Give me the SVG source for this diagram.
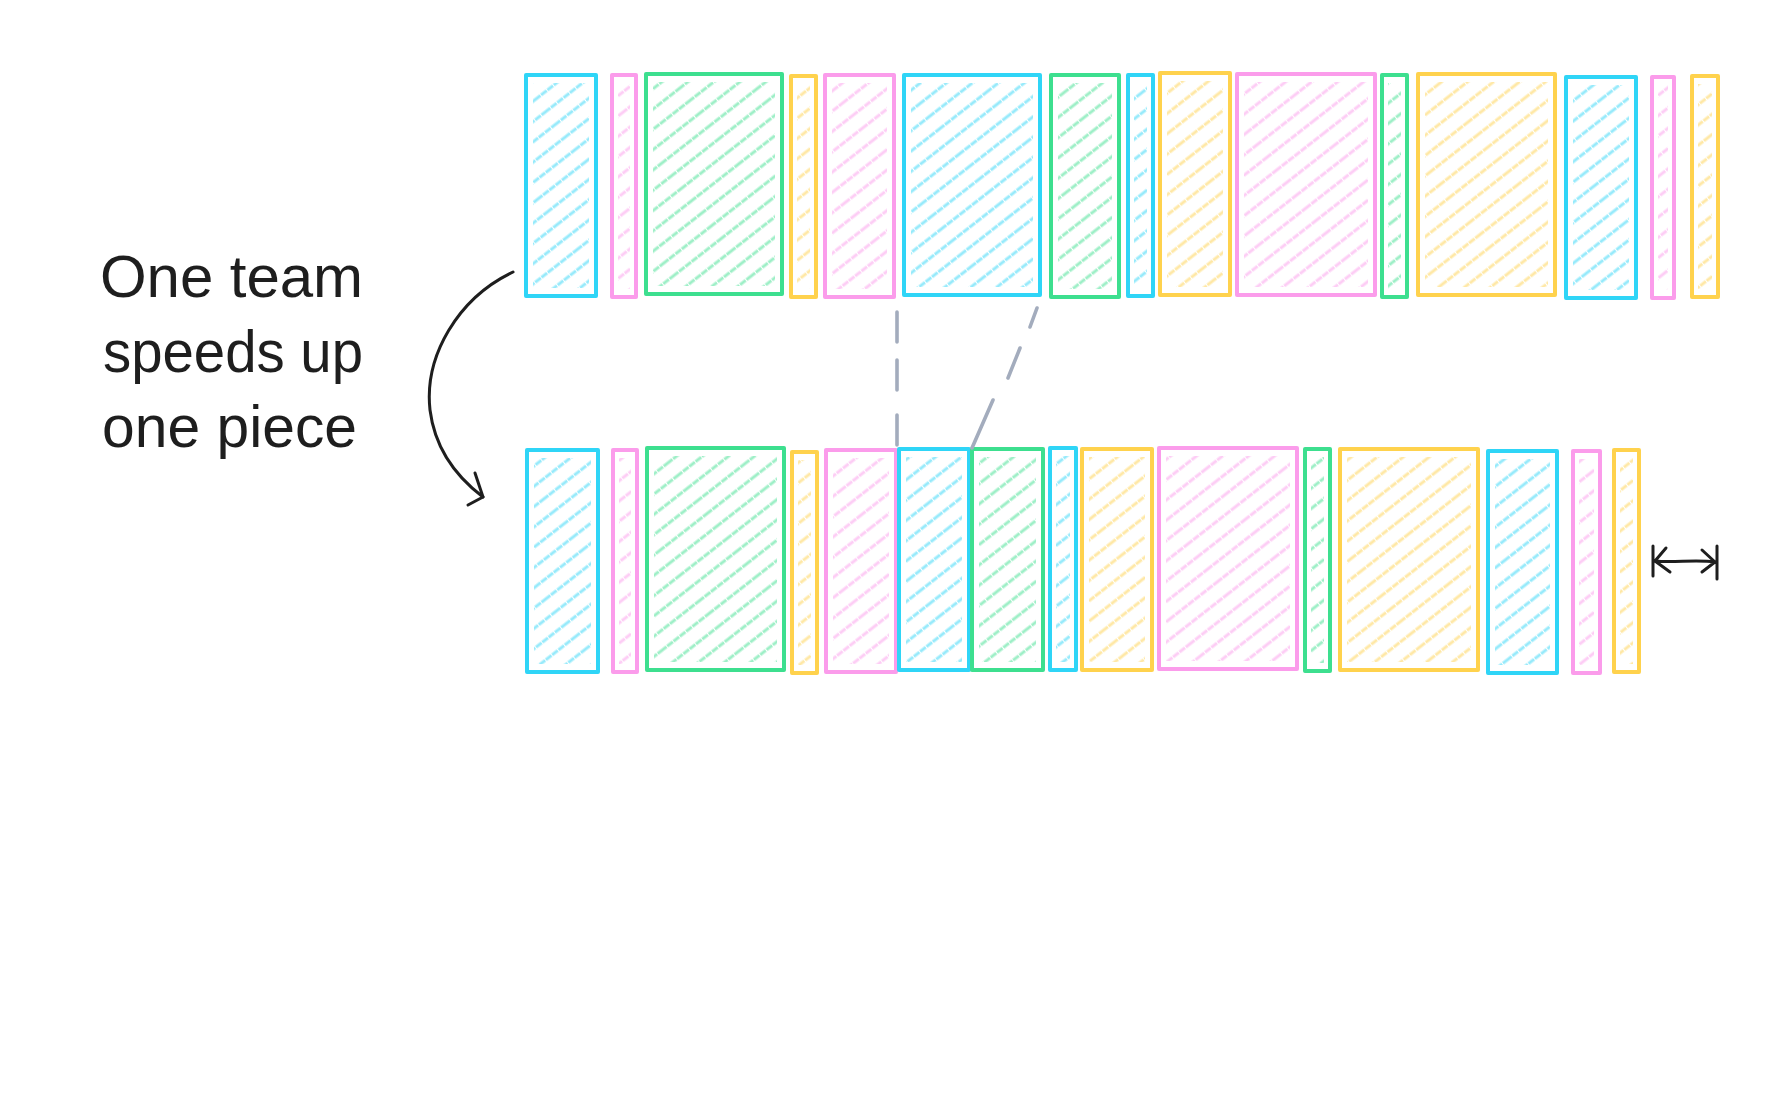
<svg xmlns="http://www.w3.org/2000/svg" width="1773" height="1106" viewBox="0 0 1773 1106">
<defs>
<pattern id="hB" patternUnits="userSpaceOnUse" width="60" height="16" patternTransform="rotate(-38)"><line x1="0" y1="8" x2="60" y2="8" stroke="#2fd5f7" stroke-width="3.2" stroke-opacity="0.5" stroke-dasharray="7 1"/></pattern>
<pattern id="hP" patternUnits="userSpaceOnUse" width="60" height="16" patternTransform="rotate(-38)"><line x1="0" y1="8" x2="60" y2="8" stroke="#fb9ceb" stroke-width="3.2" stroke-opacity="0.5" stroke-dasharray="7 1"/></pattern>
<pattern id="hG" patternUnits="userSpaceOnUse" width="60" height="16" patternTransform="rotate(-38)"><line x1="0" y1="8" x2="60" y2="8" stroke="#3ddf8f" stroke-width="3.2" stroke-opacity="0.5" stroke-dasharray="7 1"/></pattern>
<pattern id="hY" patternUnits="userSpaceOnUse" width="60" height="16" patternTransform="rotate(-38)"><line x1="0" y1="8" x2="60" y2="8" stroke="#ffd24d" stroke-width="3.2" stroke-opacity="0.5" stroke-dasharray="7 1"/></pattern>
</defs>
<style>
.o{fill:none;stroke-width:4;stroke-linejoin:round;stroke-linecap:round}
.B .o{stroke:#2fd5f7}.P .o{stroke:#fb9ceb}.G .o{stroke:#3ddf8f}.Y .o{stroke:#ffd24d}
.B .h{fill:url(#hB)}.P .h{fill:url(#hP)}.G .h{fill:url(#hG)}.Y .h{fill:url(#hY)}
.t{font-family:"Liberation Sans",Arial,sans-serif;font-size:60px;fill:#1e1e1e}
.ink{fill:none;stroke:#1e1e1e;stroke-width:3;stroke-linecap:round;stroke-linejoin:round}
.dash{fill:none;stroke:#a3acbd;stroke-width:3.6;stroke-linecap:round}
</style>
<rect width="1773" height="1106" fill="#ffffff"/>
<g id="top-row">
<g id="t1" class="B"><rect class="h" x="533" y="83" width="56" height="205"/><rect class="o" x="526" y="75" width="70" height="221"/></g>
<g id="t2" class="P"><rect class="h" x="618" y="83" width="12" height="206"/><rect class="o" x="612" y="75" width="24" height="222"/></g>
<g id="t3" class="G"><rect class="h" x="653" y="82" width="122" height="204"/><rect class="o" x="646" y="74" width="136" height="220"/></g>
<g id="t4" class="Y"><rect class="h" x="797" y="84" width="13" height="205"/><rect class="o" x="791" y="76" width="25" height="221"/></g>
<g id="t5" class="P"><rect class="h" x="832" y="83" width="55" height="206"/><rect class="o" x="825" y="75" width="69" height="222"/></g>
<g id="t6" class="B"><rect class="h" x="911" y="83" width="122" height="204"/><rect class="o" x="904" y="75" width="136" height="220"/></g>
<g id="t7" class="G"><rect class="h" x="1058" y="83" width="54" height="206"/><rect class="o" x="1051" y="75" width="68" height="222"/></g>
<g id="t8" class="B"><rect class="h" x="1134" y="83" width="13" height="205"/><rect class="o" x="1128" y="75" width="25" height="221"/></g>
<g id="t9" class="Y"><rect class="h" x="1167" y="81" width="56" height="206"/><rect class="o" x="1160" y="73" width="70" height="222"/></g>
<g id="t10" class="P"><rect class="h" x="1244" y="82" width="124" height="205"/><rect class="o" x="1237" y="74" width="138" height="221"/></g>
<g id="t11" class="G"><rect class="h" x="1388" y="83" width="13" height="206"/><rect class="o" x="1382" y="75" width="25" height="222"/></g>
<g id="t12" class="Y"><rect class="h" x="1425" y="82" width="123" height="205"/><rect class="o" x="1418" y="74" width="137" height="221"/></g>
<g id="t13" class="B"><rect class="h" x="1573" y="85" width="56" height="205"/><rect class="o" x="1566" y="77" width="70" height="221"/></g>
<g id="t14" class="P"><rect class="h" x="1658" y="85" width="10" height="205"/><rect class="o" x="1652" y="77" width="22" height="221"/></g>
<g id="t15" class="Y"><rect class="h" x="1698" y="84" width="14" height="205"/><rect class="o" x="1692" y="76" width="26" height="221"/></g>
</g>
<g id="bottom-row">
<g id="b1" class="B"><rect class="h" x="534" y="458" width="57" height="206"/><rect class="o" x="527" y="450" width="71" height="222"/></g>
<g id="b2" class="P"><rect class="h" x="619" y="458" width="12" height="206"/><rect class="o" x="613" y="450" width="24" height="222"/></g>
<g id="b3" class="G"><rect class="h" x="654" y="456" width="123" height="206"/><rect class="o" x="647" y="448" width="137" height="222"/></g>
<g id="b4" class="Y"><rect class="h" x="798" y="460" width="13" height="205"/><rect class="o" x="792" y="452" width="25" height="221"/></g>
<g id="b5" class="P"><rect class="h" x="833" y="458" width="56" height="206"/><rect class="o" x="826" y="450" width="70" height="222"/></g>
<g id="b6" class="B"><rect class="h" x="906" y="457" width="56" height="205"/><rect class="o" x="899" y="449" width="70" height="221"/></g>
<g id="b7" class="G"><rect class="h" x="979" y="457" width="57" height="205"/><rect class="o" x="972" y="449" width="71" height="221"/></g>
<g id="b8" class="B"><rect class="h" x="1056" y="456" width="14" height="206"/><rect class="o" x="1050" y="448" width="26" height="222"/></g>
<g id="b9" class="Y"><rect class="h" x="1089" y="457" width="56" height="205"/><rect class="o" x="1082" y="449" width="70" height="221"/></g>
<g id="b10" class="P"><rect class="h" x="1166" y="456" width="124" height="205"/><rect class="o" x="1159" y="448" width="138" height="221"/></g>
<g id="b11" class="G"><rect class="h" x="1311" y="457" width="13" height="206"/><rect class="o" x="1305" y="449" width="25" height="222"/></g>
<g id="b12" class="Y"><rect class="h" x="1347" y="457" width="124" height="205"/><rect class="o" x="1340" y="449" width="138" height="221"/></g>
<g id="b13" class="B"><rect class="h" x="1495" y="459" width="55" height="206"/><rect class="o" x="1488" y="451" width="69" height="222"/></g>
<g id="b14" class="P"><rect class="h" x="1579" y="459" width="15" height="206"/><rect class="o" x="1573" y="451" width="27" height="222"/></g>
<g id="b15" class="Y"><rect class="h" x="1620" y="458" width="13" height="206"/><rect class="o" x="1614" y="450" width="25" height="222"/></g>
</g>
<g id="label">
<text class="t" x="100" y="297" textLength="263" lengthAdjust="spacing">One team</text>
<text class="t" x="103" y="372" textLength="260" lengthAdjust="spacingAndGlyphs">speeds up</text>
<text class="t" x="102" y="447" textLength="255" lengthAdjust="spacingAndGlyphs">one piece</text>
</g>
<g id="connectors">
<path class="ink" d="M513,272 C458,298 424,356 430,410 C435,450 458,478 483,497"/>
<path class="ink" d="M475,473 L483,497 L468,505"/>
<path class="dash" d="M897,312 L897,342 M897,360 L897,390 M897,415 L897,445"/>
<path class="dash" d="M1037,308 L1030,327 M1020,348 L1008,378 M993,400 L972,448"/>
<path class="ink" d="M1655,561 C1675,563 1695,559 1715,562 M1653,546 L1653,576 M1717,546 L1717,579 M1666,548 L1655,561 L1670,572 M1702,550 L1715,562 L1702,572"/>
</g>
</svg>
